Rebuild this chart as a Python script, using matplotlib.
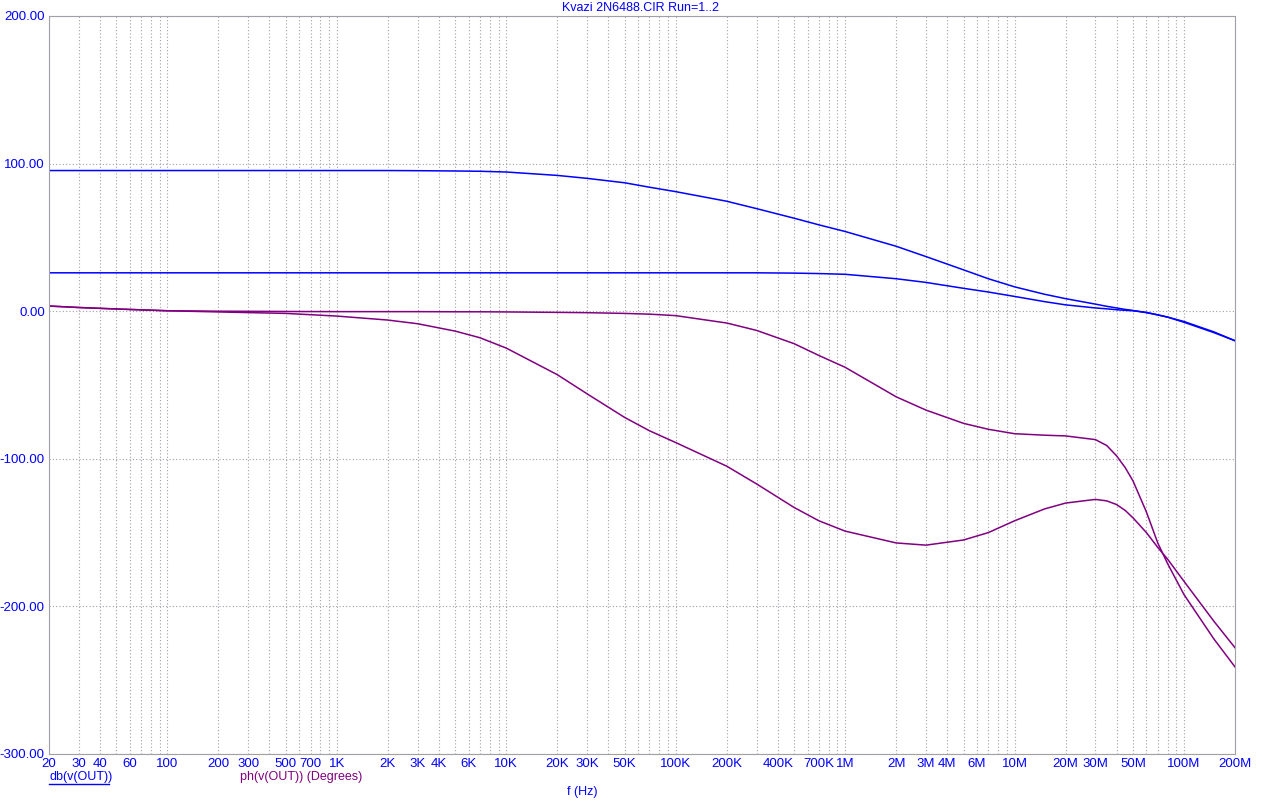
import matplotlib
matplotlib.use("Agg")
import matplotlib.pyplot as plt
import numpy as np
from matplotlib.lines import Line2D

plt.rcParams['font.family'] = ['Liberation Sans', 'DejaVu Sans']

# frequency points (Hz)
freq = [20, 30, 50, 100, 200, 500, 1e3, 2e3, 3e3, 5e3, 7e3, 1e4, 2e4, 3e4, 5e4, 7e4,
        1e5, 2e5, 3e5, 5e5, 7e5, 1e6, 2e6, 3e6, 5e6, 7e6, 1e7, 1.5e7, 2e7, 3e7, 3.5e7,
        4e7, 4.5e7, 5e7, 6e7, 7e7, 8e7, 1e8, 1.5e8, 2e8]

# db(v(OUT)), run 1 and run 2
db_run1 = [95.3, 95.3, 95.3, 95.3, 95.3, 95.3, 95.3, 95.3, 95.2, 95.0, 94.8, 94.3, 92, 90,
           87, 84, 81, 74.5, 69.5, 63, 58.5, 54, 44, 37, 28, 22, 16.5, 11.5, 8.5, 4.8,
           3.3, 2.2, 1.2, 0.5, -1, -2.5, -4, -7, -14, -20]
db_run2 = [26, 26, 26, 26, 26, 26, 26, 26, 26, 26, 26, 26, 26, 26, 26, 26, 26, 26, 26,
           25.8, 25.5, 25, 22, 19.5, 15.5, 13, 10, 6.5, 4.3, 2.2, 1.6, 1, 0.6, 0.3, -0.8,
           -2.5, -4, -7.5, -14.5, -20]

# ph(v(OUT)) in degrees
ph_run1 = [3.5, 2.5, 1.5, 0.3, -0.5, -1.5, -3.3, -6, -8.5, -13.5, -18, -25, -43, -56,
           -72, -81, -89, -105, -117, -133, -142, -149, -157, -158.5, -155, -150, -142,
           -134, -130, -127.5, -128.5, -131, -135, -140, -150, -160, -168, -183, -210,
           -228]
ph_run2 = [3.5, 2.5, 1.5, 0.3, 0, -0.2, -0.3, -0.3, -0.3, -0.4, -0.4, -0.5, -0.8, -1,
           -1.5, -2, -3, -8, -13, -22, -30, -38, -58, -67, -76, -80, -83, -84, -84.5, -87,
           -91, -98, -106, -115, -136, -157, -171, -192, -222, -241]

xtick_vals = [20, 30, 40, 60, 100, 200, 300, 500, 700, 1e3, 2e3, 3e3, 4e3, 6e3, 1e4,
              2e4, 3e4, 5e4, 1e5, 2e5, 4e5, 7e5, 1e6, 2e6, 3e6, 4e6, 6e6, 1e7, 2e7, 3e7,
              5e7, 1e8, 2e8]
xtick_labels = ['20', '30', '40', '60', '100', '200', '300', '500', '700', '1K', '2K',
                '3K', '4K', '6K', '10K', '20K', '30K', '50K', '100K', '200K', '400K',
                '700K', '1M', '2M', '3M', '4M', '6M', '10M', '20M', '30M', '50M',
                '100M', '200M']
yticks = [-300, -200, -100, 0, 100, 200]

blue = '#0000ff'
purple = '#800080'
grid_c = '#a0a0a8'

fig = plt.figure(figsize=(12.67, 8.06), dpi=100)
ax = fig.add_axes([49 / 1267, 52 / 806, 1186 / 1267, 738 / 806])

ax.plot(freq, db_run1, color=blue, lw=1.1)
ax.plot(freq, db_run2, color=blue, lw=1.1)
ax.plot(freq, ph_run1, color=purple, lw=1.1)
ax.plot(freq, ph_run2, color=purple, lw=1.1)

ax.set_xscale('log')
ax.set_xlim(20, 2e8)
ax.set_ylim(-300, 200)

# grid lines at every 1..9 of each decade
grid_x = [m * 10 ** d for d in range(1, 9) for m in range(1, 10) if 20 <= m * 10 ** d <= 2e8]
ax.set_xticks(grid_x, minor=True)
ax.set_xticks(xtick_vals)
ax.set_xticklabels(xtick_labels)
ax.set_yticks(yticks)
ax.set_yticklabels(['%.2f' % v for v in yticks])
ax.grid(True, which='both', axis='x', color=grid_c, ls=(0, (1, 2)), lw=0.8)
ax.grid(True, which='major', axis='y', color=grid_c, ls=(0, (1, 2)), lw=0.8)
ax.tick_params(which='both', length=0, labelcolor=blue, labelsize=9.5, pad=3)
ax.tick_params(axis='y', pad=3)

for s in ax.spines.values():
    s.set_color(grid_c)
    s.set_linestyle((0, (1, 1)))
    s.set_linewidth(0.8)

fig.text(640 / 1267, 1 - 8 / 806, 'Kvazi 2N6488.CIR Run=1..2', color=blue,
         fontsize=9, ha='center', va='center')
fig.text(49 / 1267, 1 - 777 / 806, 'db(v(OUT))', color=blue, fontsize=9,
         ha='left', va='center')
fig.add_artist(Line2D([49 / 1267, 109 / 1267], [1 - 784 / 806, 1 - 784 / 806],
                      color=blue, lw=1))
fig.text(240 / 1267, 1 - 777 / 806, 'ph(v(OUT)) (Degrees)', color=purple, fontsize=9,
         ha='left', va='center')
fig.text(582 / 1267, 1 - 792 / 806, 'f (Hz)', color=blue, fontsize=9,
         ha='center', va='center')

fig.savefig('out.png', dpi=100)
